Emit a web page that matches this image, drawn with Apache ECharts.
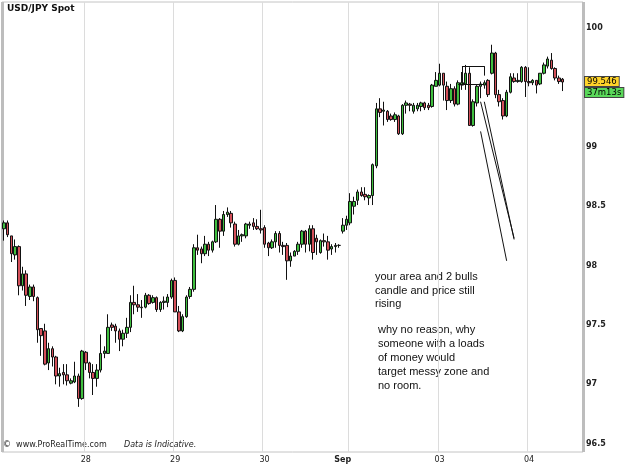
<!DOCTYPE html>
<html lang="en">
<head>
<meta charset="UTF-8">
<title>USD/JPY Spot</title>
<script src="https://cdn.jsdelivr.net/npm/echarts@6/dist/echarts.min.js"></script>
<style>
  html, body { margin: 0; padding: 0; background: #fff; }
  #chart { width: 625px; height: 469px; }
</style>
</head>
<body>
<div id="chart"></div>
<script>
// hourly candles, one block per day
var days = ['27', '28', '29', '30', '01', '02', '03', '04'];
var dayLabels = ['', '28', '29', '30', 'Sep', '', '03', '04'];
var hoursPerDay = [22, 24, 24, 21, 2, 24, 24, 10];
var firstHour = [2, 0, 0, 0, 22, 0, 0, 0];
var weekBreakDay = 4;   // thick separator before Sunday 01
var emptySlots = 5;     // blank space right of the last candle

var yTickLabels = [96.5, 97, 97.5, 98, 98.5, 99, 100];

var openV = [
  98.31, 98.36, 98.25, 98.09, 98.16, 97.83, 97.93, 97.74, 97.82, 97.73,
  97.47, 97.45, 97.18, 97.30, 97.23, 97.07, 97.10, 97.08, 97.01, 97.02,
  97.07, 96.88, 97.27, 97.18, 97.10, 97.05, 97.12, 97.26, 97.26, 97.50,
  97.49, 97.45, 97.38, 97.43, 97.48, 97.69, 97.67, 97.65, 97.65, 97.75,
  97.69, 97.73, 97.63, 97.69, 97.69, 97.735, 97.875, 97.61, 97.45, 97.57,
  97.74, 97.80, 98.15, 98.14, 98.10, 98.18, 98.13, 98.20, 98.39, 98.29,
  98.43, 98.44, 98.35, 98.18, 98.25, 98.25, 98.34, 98.36, 98.33, 98.31,
  98.32, 98.19, 98.15, 98.20, 98.27, 98.17, 98.17, 98.04, 98.08, 98.12,
  98.18, 98.29, 98.18, 98.31, 98.23, 98.11, 98.21, 98.20, 98.14, 98.16,
  98.17, 98.29, 98.34, 98.36, 98.50, 98.55, 98.62, 98.60, 98.57, 98.59,
  98.84, 99.32, 99.30, 99.30, 99.26, 99.23, 99.26, 99.11, 99.35, 99.36,
  99.30, 99.32, 99.34, 99.37, 99.35, 99.34, 99.51, 99.52, 99.62, 99.51,
  99.39, 99.49, 99.36, 99.52, 99.53, 99.62, 99.18, 99.37, 99.51, 99.52,
  99.56, 99.62, 99.79, 99.44, 99.39, 99.26, 99.46, 99.58, 99.55, 99.55,
  99.67, 99.55, 99.54, 99.56, 99.53, 99.62, 99.68, 99.73, 99.66, 99.58,
  99.57
];
var closeV = [
  98.36, 98.26, 98.10, 98.16, 97.83, 97.93, 97.75, 97.82, 97.74, 97.46,
  97.41, 97.17, 97.30, 97.23, 97.07, 97.09, 97.08, 97.03, 97.03, 97.07,
  96.88, 97.28, 97.18, 97.10, 97.05, 97.12, 97.26, 97.28, 97.48, 97.48,
  97.45, 97.38, 97.43, 97.48, 97.69, 97.67, 97.65, 97.645, 97.75, 97.68,
  97.73, 97.63, 97.69, 97.70, 97.735, 97.875, 97.61, 97.45, 97.57, 97.735,
  97.80, 98.15, 98.13, 98.10, 98.18, 98.13, 98.20, 98.39, 98.29, 98.43,
  98.45, 98.36, 98.18, 98.25, 98.26, 98.35, 98.35, 98.33, 98.31, 98.30,
  98.18, 98.15, 98.20, 98.27, 98.17, 98.16, 98.04, 98.08, 98.12, 98.18,
  98.29, 98.18, 98.31, 98.11, 98.20, 98.21, 98.20, 98.13, 98.16, 98.17,
  98.17, 98.34, 98.39, 98.54, 98.54, 98.62, 98.59, 98.58, 98.59, 98.85,
  99.32, 99.29, 99.31, 99.23, 99.23, 99.27, 99.11, 99.35, 99.37, 99.35,
  99.35, 99.35, 99.37, 99.33, 99.33, 99.52, 99.56, 99.62, 99.52, 99.39,
  99.49, 99.36, 99.54, 99.54, 99.62, 99.18, 99.38, 99.51, 99.53, 99.54,
  99.44, 99.79, 99.44, 99.38, 99.26, 99.46, 99.59, 99.55, 99.56, 99.67,
  99.55, 99.54, 99.56, 99.52, 99.62, 99.69, 99.74, 99.66, 99.58, 99.55,
  99.546
];
var lowV = [
  98.21, 98.24, 98.03, 98.05, 97.75, 97.79, 97.66, 97.71, 97.70, 97.35,
  97.24, 97.16, 97.12, 97.15, 97.00, 96.98, 97.00, 96.99, 97.00, 97.01,
  96.81, 96.87, 97.12, 97.05, 96.91, 96.98, 97.10, 97.22, 97.26, 97.45,
  97.35, 97.28, 97.32, 97.39, 97.44, 97.59, 97.61, 97.56, 97.64, 97.67,
  97.68, 97.61, 97.61, 97.63, 97.65, 97.72, 97.61, 97.44, 97.44, 97.56,
  97.72, 97.78, 98.09, 98.02, 98.08, 98.08, 98.11, 98.19, 98.15, 98.25,
  98.41, 98.32, 98.16, 98.17, 98.20, 98.23, 98.31, 98.30, 98.30, 98.27,
  98.15, 98.08, 98.14, 98.15, 98.11, 98.09, 97.88, 97.99, 98.08, 98.09,
  98.15, 98.11, 98.12, 98.05, 98.09, 98.10, 98.16, 98.05, 98.09, 98.11,
  98.15, 98.27, 98.30, 98.34, 98.43, 98.51, 98.58, 98.55, 98.51, 98.51,
  98.82, 99.25, 99.18, 99.21, 99.22, 99.21, 99.10, 99.10, 99.28, 99.30,
  99.28, 99.30, 99.30, 99.31, 99.31, 99.33, 99.51, 99.51, 99.39, 99.31,
  99.37, 99.34, 99.35, 99.48, 99.48, 99.18, 99.17, 99.34, 99.41, 99.49,
  99.42, 99.61, 99.41, 99.34, 99.23, 99.25, 99.45, 99.54, 99.54, 99.54,
  99.42, 99.51, 99.52, 99.45, 99.52, 99.61, 99.66, 99.65, 99.56, 99.53,
  99.47
];
var highV = [
  98.38, 98.38, 98.25, 98.22, 98.17, 97.99, 97.96, 97.84, 97.84, 97.74,
  97.47, 97.51, 97.35, 97.32, 97.24, 97.14, 97.17, 97.17, 97.05, 97.19,
  97.09, 97.29, 97.28, 97.19, 97.17, 97.17, 97.42, 97.32, 97.59, 97.52,
  97.51, 97.47, 97.46, 97.56, 97.75, 97.83, 97.76, 97.71, 97.77, 97.76,
  97.75, 97.74, 97.70, 97.74, 97.76, 97.89, 97.90, 97.66, 97.59, 97.75,
  97.82, 98.18, 98.26, 98.16, 98.25, 98.20, 98.21, 98.51, 98.40, 98.46,
  98.49, 98.46, 98.37, 98.30, 98.27, 98.36, 98.37, 98.40, 98.39, 98.47,
  98.34, 98.20, 98.22, 98.29, 98.29, 98.20, 98.19, 98.11, 98.13, 98.20,
  98.30, 98.30, 98.34, 98.34, 98.26, 98.22, 98.27, 98.25, 98.18, 98.19,
  98.18, 98.40, 98.42, 98.61, 98.58, 98.64, 98.66, 98.66, 98.60, 98.86,
  99.37, 99.41, 99.38, 99.31, 99.28, 99.29, 99.27, 99.36, 99.39, 99.37,
  99.37, 99.37, 99.38, 99.38, 99.37, 99.53, 99.63, 99.70, 99.62, 99.55,
  99.53, 99.51, 99.56, 99.63, 99.69, 99.67, 99.40, 99.52, 99.55, 99.56,
  99.57, 99.86, 99.80, 99.48, 99.41, 99.48, 99.62, 99.62, 99.62, 99.68,
  99.68, 99.67, 99.57, 99.56, 99.62, 99.71, 99.76, 99.79, 99.67, 99.60,
  99.58
];

var lastPrice = 99.546;
var countdown = '37m13s';

// hand-drawn box and arrows (candle index, price)
var drawnLines = [
  [[123, 99.68], [129, 99.68]],
  [[123, 99.68], [123, 99.53]],
  [[129, 99.68], [129, 99.60]],
  [[122, 99.53], [129, 99.53]],
  [[128, 99.13], [135, 98.04]],
  [[128, 99.38], [137, 98.23]],
  [[129, 99.38], [137, 98.22]]
];

var note1 = 'your area and 2 bulls\ncandle and price still\nrising';
var note2 = 'why no reason, why\nsomeone with a loads\nof money would\ntarget messy zone and\nno room.';

// build categories
var xCats = [];
var labelAt = {};
var gridAt = [];
var weekBreakIdx = 0;
for (var d = 0; d < days.length; d++) {
    if (d > 0) {
        labelAt[xCats.length] = dayLabels[d];
        if (d === weekBreakDay) weekBreakIdx = xCats.length;
        else gridAt.push(xCats.length);
    }
    for (var h = 0; h < hoursPerDay[d]; h++) {
        xCats.push(days[d] + ' ' + (firstHour[d] + h) + ':00');
    }
}
for (var e = 0; e < emptySlots; e++) xCats.push('');

var candles = [];
for (var i = 0; i < openV.length; i++) {
    candles.push([openV[i], closeV[i], lowV[i], highV[i]]);
}

var markData = drawnLines.map(function (ln) {
    return [{ coord: ln[0] }, { coord: ln[1] }];
});

var chart = echarts.init(document.getElementById('chart'));
chart.setOption({
    animation: false,
    backgroundColor: '#fff',
    grid: {
        left: 2, right: 42, top: 2, bottom: 17,
        show: true, borderColor: '#c4c4c4', borderWidth: 1, backgroundColor: '#fff'
    },
    xAxis: [{
        type: 'category',
        data: xCats,
        boundaryGap: true,
        axisLine: { show: false },
        axisTick: { show: false },
        axisLabel: {
            interval: function (idx) { return labelAt[idx] !== undefined && labelAt[idx] !== ''; },
            formatter: function (v, idx) {
                var t = labelAt[idx] || '';
                return t === 'Sep' ? '{b|Sep}' : t;
            },
            fontSize: 8,
            fontFamily: 'DejaVu Sans',
            color: '#222',
            margin: 4,
            rich: { b: { fontSize: 8, fontWeight: 'bold', fontFamily: 'DejaVu Sans', color: '#222' } }
        },
        splitLine: {
            show: true,
            interval: function (idx) { return gridAt.indexOf(idx) >= 0; },
            lineStyle: { color: '#dcdcdc', width: 1 }
        }
    }, {
        type: 'category',
        data: xCats,
        boundaryGap: true,
        position: 'top',
        axisLine: { show: false },
        axisTick: { show: false },
        axisLabel: { show: false },
        splitLine: {
            show: true,
            interval: function (idx) { return idx === weekBreakIdx; },
            lineStyle: { color: '#bdbdbd', width: 3 }
        }
    }],
    yAxis: {
        type: 'value',
        position: 'right',
        min: 96.43,
        max: 100.22,
        interval: 0.01,
        axisLine: { show: false },
        axisTick: { show: false },
        splitLine: { show: false },
        axisLabel: {
            margin: 3,
            fontSize: 8,
            fontWeight: 'bold',
            fontFamily: 'DejaVu Sans',
            color: '#222',
            formatter: function (v) {
                for (var k = 0; k < yTickLabels.length; k++) {
                    if (Math.abs(v - yTickLabels[k]) < 0.001) return String(yTickLabels[k]);
                }
                return '';
            }
        }
    },
    series: [{
        type: 'candlestick',
        name: 'USD/JPY',
        data: candles,
        barWidth: 3,
        itemStyle: {
            color: '#3fbf3f',
            color0: '#d4505a',
            borderColor: '#111',
            borderColor0: '#111',
            borderWidth: 1
        },
        markLine: {
            silent: true,
            symbol: ['none', 'none'],
            lineStyle: { color: '#111', width: 1, type: 'solid' },
            label: { show: false },
            data: markData
        }
    }, {
        // last-price tag on the right axis
        type: 'line',
        data: [],
        markLine: {
            silent: true,
            symbol: ['none', 'none'],
            lineStyle: { color: 'rgba(0,0,0,0)', width: 1 },
            label: {
                show: true,
                position: 'end',
                distance: 2,
                formatter: '{s| }\n{a|' + lastPrice.toFixed(3) + '}\n{b|' + countdown + '}',
                rich: {
                    s: { fontSize: 8, lineHeight: 11 },
                    a: {
                        fontSize: 8.5, fontFamily: 'DejaVu Sans', color: '#000', lineHeight: 11,
                        backgroundColor: '#ffd42a', borderColor: '#444', borderWidth: 1, padding: [0, 2, 0, 2]
                    },
                    b: {
                        fontSize: 8.5, fontFamily: 'DejaVu Sans', color: '#000', lineHeight: 11,
                        backgroundColor: '#5ad85a', borderColor: '#444', borderWidth: 1, padding: [0, 2, 0, 2]
                    }
                }
            },
            data: [{ yAxis: lastPrice }]
        }
    }],
    graphic: [{
        type: 'text', x: 7, y: 4,
        style: { text: 'USD/JPY Spot', font: 'bold 9px "DejaVu Sans"', fill: '#111' }
    }, {
        type: 'text', x: 3, y: 441,
        style: { text: '\u00a9  www.ProRealTime.com', font: '8px "DejaVu Sans"', fill: '#222' }
    }, {
        type: 'text', x: 124, y: 441,
        style: { text: 'Data is Indicative.', font: 'italic 8px "DejaVu Sans"', fill: '#222' }
    }, {
        type: 'text', x: 375, y: 270,
        style: { text: note1, font: '11px "Liberation Sans"', fill: '#111', lineHeight: 13.7 }
    }, {
        type: 'text', x: 378, y: 323,
        style: { text: note2, font: '11px "Liberation Sans"', fill: '#111', lineHeight: 14.1 }
    }]
});
</script>
</body>
</html>
